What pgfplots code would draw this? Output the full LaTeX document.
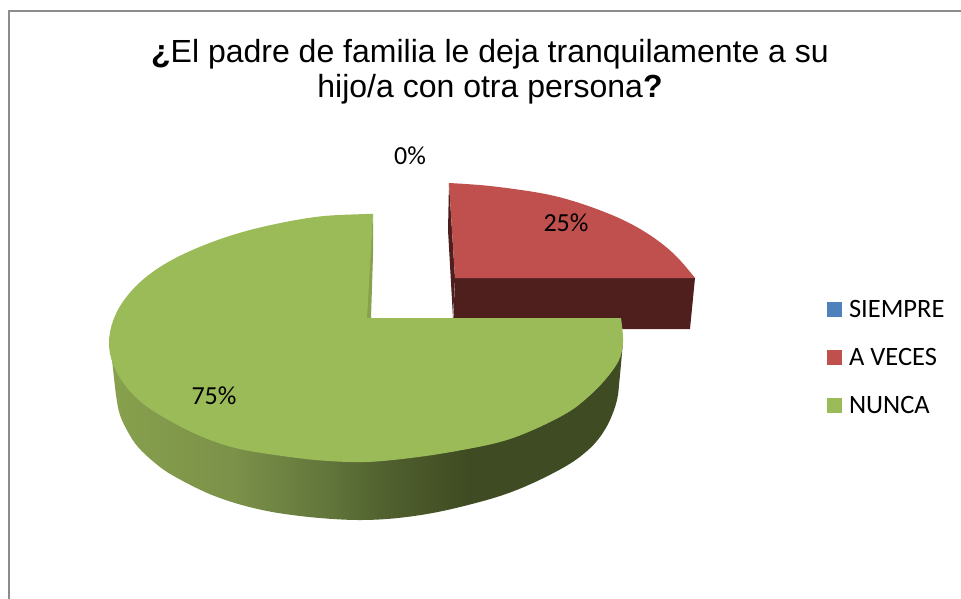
\documentclass[border=0pt]{standalone}
\usepackage{pgfplots}
\pgfplotsset{compat=1.18}
\usepackage{fontspec}
\setmainfont{Liberation Sans}
\newfontfamily\calfont{Carlito}
\definecolor{cblue}{HTML}{4F81BD}
\definecolor{cred}{HTML}{C0504D}
\definecolor{cgreen}{HTML}{9BBB59}
\definecolor{dred}{HTML}{4F1F1E}
\definecolor{sliver}{HTML}{86A24C}
\definecolor{frame}{HTML}{8C8C8C}
\definecolor{g1}{HTML}{87A14D}
\definecolor{g2}{HTML}{7C9149}
\definecolor{g3}{HTML}{60733A}
\definecolor{g4}{HTML}{50602E}
\definecolor{g5}{HTML}{3F4B22}
\pgfdeclarehorizontalshading{greenside}{100bp}{
 color(0bp)=(g1); color(25bp)=(g1); color(37bp)=(g2); color(47bp)=(g3);
 color(52bp)=(g4); color(60bp)=(g5); color(100bp)=(g5)}
\begin{document}
\begin{tikzpicture}
\path (0,0) rectangle (961pt,599pt);
\begin{axis}[
  at={(0,0)}, anchor=south west,
  scale only axis, width=961pt, height=599pt,
  xmin=0, xmax=961, ymin=0, ymax=599, y dir=reverse,
  hide axis, clip=true,
  legend cell align=left,
  area legend,
  legend image code/.code={\fill[#1] (0pt,-7.5pt) rectangle (15pt,7.5pt);},
  legend style={at={(axis cs:827,308)}, anchor=north west, draw=none, fill=none,
    inner sep=0pt, outer sep=0pt, row sep=29pt, yshift=7.5pt,
    nodes={inner sep=0pt, font=\calfont\fontsize{26.5}{26.5}\selectfont}},
]
% frame
\addplot[frame, line width=1.6pt, forget plot] coordinates {(9,599) (9,11) (961,11)};
% SIEMPRE: empty slice
\addplot[fill=cblue, draw=none] coordinates {(449,183) (449,183)};
\addlegendentry{\hspace{7pt}SIEMPRE}
% red side faces
\addplot[fill=dred, draw=none, forget plot] coordinates {(455,278) (695,278) (690,329) (453,329)} -- cycle;
\addplot[fill=dred, draw=none, forget plot] coordinates {(449,183) (448,230) (453,318) (455,278)} -- cycle;
% red top
\addplot[fill=cred, draw=none, smooth, tension=0.6] coordinates {(449,183) (490,186) (540,193) (573,201) (607,213) (633,225) (657,240) (677,257) (695,278)} -- (axis cs:455,278) -- cycle;
\addlegendentry{\hspace{7pt}A VECES}
% green inner sliver
\addplot[fill=sliver, draw=none, forget plot] coordinates {(373,214) (373,255) (371,318) (365,318)} -- cycle;
% green outer side
\addplot[shading=greenside, draw=none, forget plot, smooth, tension=0.6] coordinates {(109,342) (112,360) (116,395) (120,415) (128,432) (138,447) (155,463) (172,475) (205,492) (235,503) (267,511) (300,516) (333,519) (362,520) (393,518.5) (427,514) (460,507) (500,496) (533,483) (567,465.5) (587,451) (600,437) (610,420) (617,400) (619.5,380) (622,353) (623,342)} -- cycle;
% green top
\addplot[fill=cgreen, draw=none, smooth, tension=0.6] coordinates {(373,214) (366,214) (321.4,216.3) (278.1,223.5) (237.5,233.5) (200.7,246.5) (169.1,261.5) (143.4,279.2) (124.5,299.5) (113,320.9) (109,343) (113,364) (124.5,384.5) (143.4,404) (172,422) (205,438) (237.5,448.5) (278.1,455.4) (321.4,460.5) (366,462) (410.6,458) (453.9,451.5) (500,442) (533,430) (567,413) (587,398) (605,380) (619,360) (623,341) (621,318)} -- (axis cs:367,318) -- cycle;
\addlegendentry{\hspace{7pt}NUNCA}
% labels
\node[font=\calfont\fontsize{26}{26}\selectfont] at (axis cs:410,156) {0\%};
\node[font=\calfont\fontsize{26}{26}\selectfont] at (axis cs:566,223) {25\%};
\node[font=\calfont\fontsize{26}{26}\selectfont] at (axis cs:214,396) {75\%};
\node[align=center, font=\fontsize{32}{35}\selectfont] at (axis cs:490,72)
  {\textbf{¿}El padre de familia le deja tranquilamente a su\\hijo/a con otra persona\textbf{?}};
\end{axis}
\end{tikzpicture}
\end{document}
